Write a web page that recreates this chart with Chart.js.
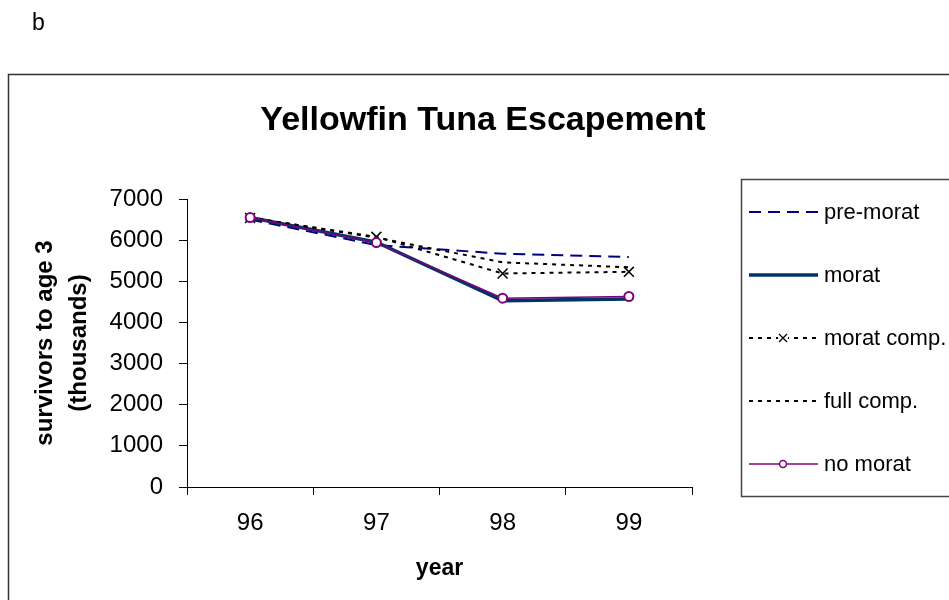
<!DOCTYPE html>
<html>
<head>
<meta charset="utf-8">
<script src="https://cdn.jsdelivr.net/npm/chart.js@4/dist/chart.umd.min.js"></script>
<style>
  html, body { margin: 0; padding: 0; background: #fff; }
  #wrap { position: relative; width: 949px; height: 600px; }
</style>
</head>
<body>
<div id="wrap"><canvas id="c" width="949" height="600"></canvas></div>
<script>
const years = ['96', '97', '98', '99'];
const preMorat = [6500, 5880, 5670, 5590];
const morat = [6550, 5950, 4530, 4570];
const moratComp = [6540, 6080, 5190, 5230];
const fullComp = [6550, 6060, 5460, 5340];
const noMorat = [6550, 5940, 4590, 4630];
const yTicks = [0, 1000, 2000, 3000, 4000, 5000, 6000, 7000];

const FONT = "'Liberation Sans', Arial, sans-serif";

const decor = {
  id: 'decor',
  beforeDraw(chart) {
    const ctx = chart.ctx;
    ctx.save();
    ctx.fillStyle = '#fff';
    ctx.fillRect(0, 0, chart.width, chart.height);
    ctx.strokeStyle = '#333';
    ctx.lineWidth = 1.5;
    ctx.strokeRect(8.5, 74.5, 1000, 700);
    ctx.fillStyle = '#000';
    ctx.font = '23px ' + FONT;
    ctx.textAlign = 'left';
    ctx.textBaseline = 'alphabetic';
    ctx.fillText('b', 32, 30);
    ctx.font = 'bold 34px ' + FONT;
    ctx.textAlign = 'center';
    ctx.fillText('Yellowfin Tuna Escapement', 483, 130);
    ctx.restore();
  },
  afterDraw(chart) {
    const ctx = chart.ctx;
    ctx.save();
    ctx.strokeStyle = '#444';
    ctx.lineWidth = 1.5;
    ctx.strokeRect(741.5, 179.5, 400, 317);
    const x0 = 749, x1 = 818;
    chart.data.datasets.forEach((ds, i) => {
      const y = 212 + i * 63;
      ctx.save();
      ctx.strokeStyle = ds.borderColor;
      ctx.lineWidth = ds.borderWidth;
      ctx.setLineDash(ds.borderDash || []);
      ctx.beginPath();
      ctx.moveTo(x0, y);
      ctx.lineTo(x1, y);
      ctx.stroke();
      ctx.setLineDash([]);
      const mx = 783;
      if (ds.pointStyle === 'crossRot' && ds.pointRadius > 0) {
        ctx.fillStyle = '#fff';
        ctx.fillRect(mx - 5, y - 5, 10, 10);
        ctx.strokeStyle = ds.pointBorderColor;
        ctx.lineWidth = 1.2;
        ctx.beginPath();
        ctx.moveTo(mx - 4, y - 4); ctx.lineTo(mx + 4, y + 4);
        ctx.moveTo(mx - 4, y + 4); ctx.lineTo(mx + 4, y - 4);
        ctx.stroke();
      } else if (ds.pointStyle === 'circle' && ds.pointRadius > 0) {
        ctx.fillStyle = '#fff';
        ctx.strokeStyle = ds.pointBorderColor;
        ctx.lineWidth = 1.5;
        ctx.beginPath();
        ctx.arc(mx, y, 3.5, 0, Math.PI * 2);
        ctx.fill();
        ctx.stroke();
      }
      ctx.fillStyle = '#000';
      ctx.font = '22px ' + FONT;
      ctx.textAlign = 'left';
      ctx.textBaseline = 'middle';
      ctx.fillText(ds.label, 824, y + 1);
      ctx.restore();
    });
    ctx.restore();
  }
};

new Chart(document.getElementById('c'), {
  type: 'line',
  data: {
    labels: years,
    datasets: [
      { label: 'pre-morat', data: preMorat, borderColor: '#000080', borderWidth: 2,
        borderDash: [12, 7], pointRadius: 0, pointStyle: 'line', order: 5, tension: 0 },
      { label: 'morat', data: morat, borderColor: '#003366', borderWidth: 3.5,
        pointRadius: 0, pointStyle: 'line', order: 4, tension: 0 },
      { label: 'morat comp.', data: moratComp, borderColor: '#000', borderWidth: 2,
        borderDash: [4, 5], pointStyle: 'crossRot', pointRadius: 7,
        pointBorderColor: '#000', pointBorderWidth: 1.5, pointBackgroundColor: '#000', order: 3, tension: 0 },
      { label: 'full comp.', data: fullComp, borderColor: '#000', borderWidth: 2,
        borderDash: [4, 5], pointRadius: 0, pointStyle: 'line', order: 2, tension: 0 },
      { label: 'no morat', data: noMorat, borderColor: '#800080', borderWidth: 1.5,
        pointStyle: 'circle', pointRadius: 4.5, pointBorderColor: '#800080',
        pointBackgroundColor: '#fff', pointBorderWidth: 2, order: 1, tension: 0 }
    ]
  },
  options: {
    responsive: false,
    animation: false,
    devicePixelRatio: 1,
    layout: { padding: { top: 199, right: 257, bottom: 0, left: 0 } },
    plugins: { legend: { display: false }, title: { display: false }, tooltip: { enabled: false } },
    scales: {
      x: {
        offset: true,
        grid: { display: true, offset: true, drawOnChartArea: false, drawTicks: true, tickLength: 8, color: '#000', lineWidth: 1 },
        border: { display: true, color: '#000', width: 1 },
        ticks: { color: '#000', padding: 14, font: { family: FONT, size: 24 } },
        title: { display: true, text: 'year', color: '#000', padding: { top: 0, bottom: 18 },
          font: { family: FONT, size: 23, weight: 'bold', lineHeight: 1.2 } },
        afterFit(scale) { scale.height = 113; }
      },
      y: {
        min: 0, max: 7000,
        afterBuildTicks(scale) { scale.ticks = yTicks.map(v => ({ value: v })); },
        grid: { display: true, drawOnChartArea: false, drawTicks: true, tickLength: 8, color: '#000', lineWidth: 1 },
        border: { display: true, color: '#000', width: 1 },
        ticks: { color: '#000', padding: 16, font: { family: FONT, size: 24 },
          callback: (v) => String(v) },
        title: { display: true, text: ['survivors to age 3', '(thousands)'], color: '#000',
          padding: { top: 29, bottom: 0 },
          font: { family: FONT, size: 24, weight: 'bold', lineHeight: 1.4 } },
        afterFit(scale) { scale.width = 187; }
      }
    }
  },
  plugins: [decor]
});
</script>
</body>
</html>
